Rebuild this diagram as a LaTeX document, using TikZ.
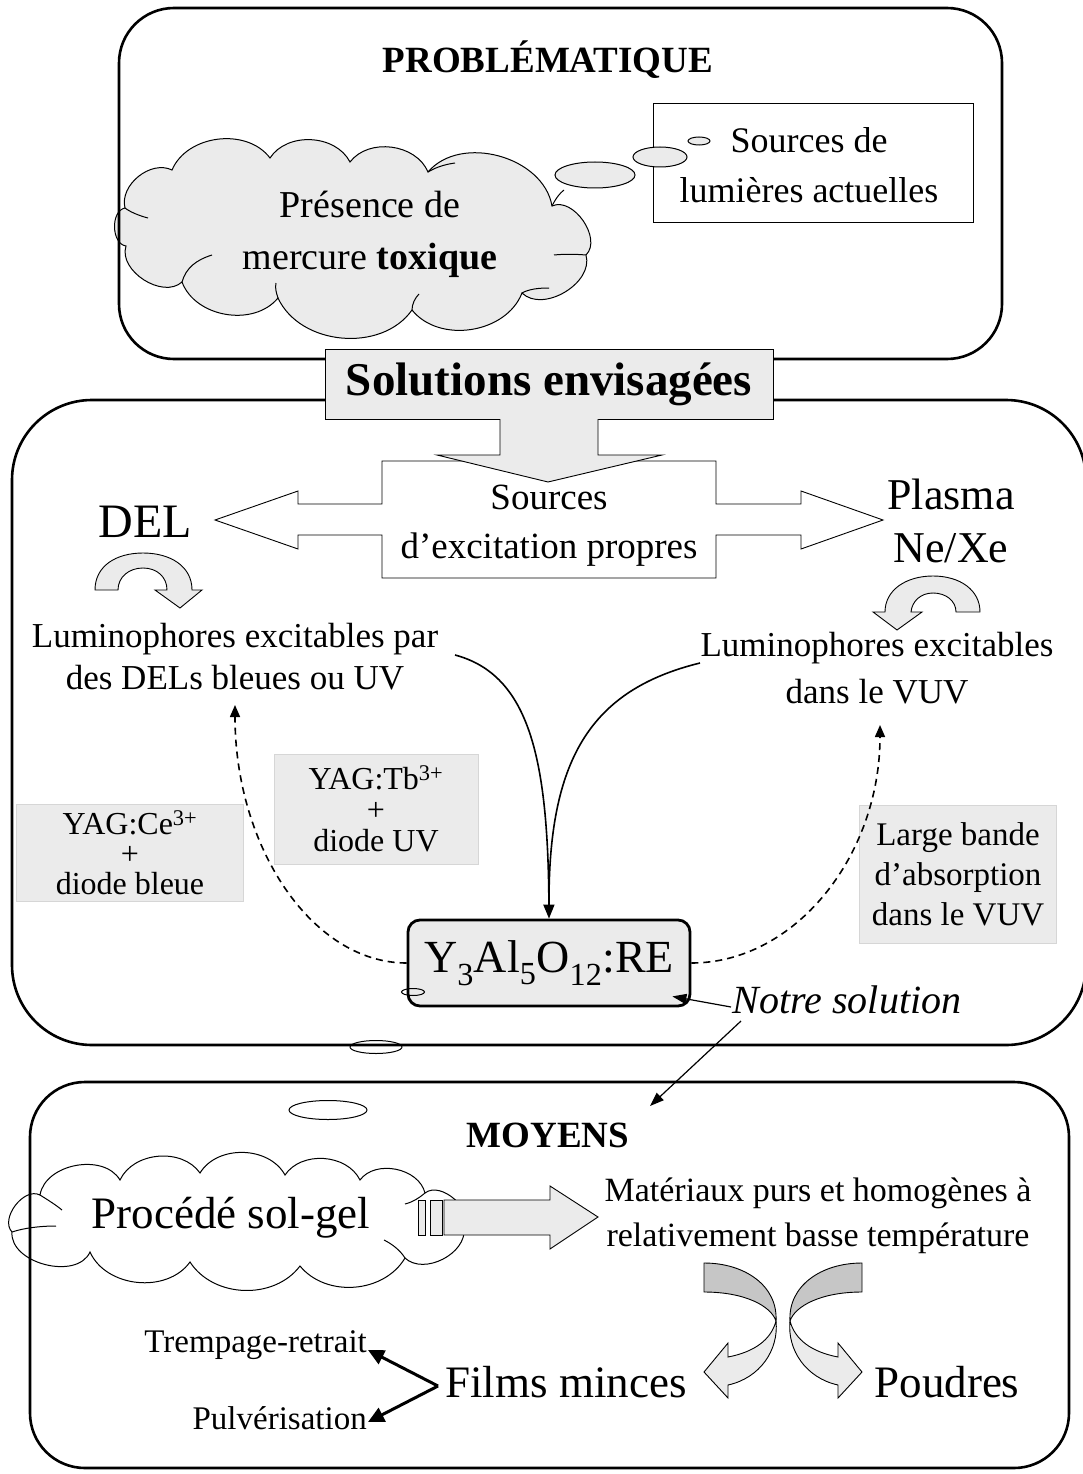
\documentclass[tikz,border=0pt]{standalone}
\usepackage{fontspec}
\setmainfont{Liberation Serif}
\usetikzlibrary{arrows.meta,calc}
\definecolor{lg}{HTML}{EBEBEB}
\definecolor{dg}{HTML}{C6C6C6}
\definecolor{bd}{HTML}{D6D6D6}
\newcommand{\fsz}[2]{\fontsize{#1}{#2}\selectfont}
\begin{document}
\begin{tikzpicture}[x=1pt,y=-1pt,
  boxframe/.style={line width=2.6pt, rounded corners=#1},
  txt/.style={inner sep=0pt, align=center},
  graybox/.style={fill=lg, draw=bd, line width=0.8pt, inner sep=0pt, align=center},
  shapeline/.style={line width=0.9pt, line join=miter},
  solidarrow/.style={line width=1.6pt, -{Triangle[length=14pt,width=11pt]}},
  dasharrow/.style={line width=1.6pt, dash pattern=on 7pt off 5pt, -{Triangle[length=12pt,width=10pt]}},
  thinarrow/.style={line width=1.2pt, -{Triangle[length=14pt,width=10pt]}},
  thickarrow/.style={line width=3pt, -{Triangle[length=16pt,width=15pt]}},
  puff/.style={bend left=#1},
]
\useasboundingbox (0,0) rectangle (1082,1474);

% ---------------- PROBLEMATIQUE ----------------
\draw[line width=1pt, fill=lg] (125,208) to[puff=65] (172,170) to[puff=60] (270,158) to[puff=60] (350,162)
  to[puff=60] (428,172) to[puff=65] (552,206) to[puff=80] (586,255) to[puff=75] (522,293)
  to[puff=60] (412,310) to[puff=60] (278,298) to[puff=60] (182,282) to[puff=75] (126,246)
  to[puff=80] (125,208) -- cycle;
\draw[line width=1pt] (125,208) .. controls (130,212) and (140,216) .. (148,218);
\draw[line width=1pt] (182,282) .. controls (186,268) and (196,260) .. (212,255);
\draw[line width=1pt] (522,293) .. controls (529,289) and (539,288) .. (549,288);
\draw[line width=1pt] (586,255) .. controls (574,254) and (564,254) .. (554,255);
\draw[line width=1pt] (552,206) .. controls (556,198) and (560,193) .. (564,190);
\draw[line width=1pt] (412,310) .. controls (412,304) and (415,298) .. (419,294);
\draw[line width=1pt] (278,298) .. controls (276,292) and (275,288) .. (276,283);
\draw[line width=1pt] (428,172) .. controls (438,166) and (448,164) .. (455,163);
\node[txt, font=\fsz{38}{52}] (pres) at (370,234) {Présence de\\mercure \textbf{toxique}};
\draw[boxframe=55pt] (119,8) rectangle (1002,359);
\node[txt, font=\fsz{37}{40}\bfseries] (prob) at (548,60) {PROBLÉMATIQUE};
\node[draw, line width=1pt, fill=white, minimum width=320, minimum height=118, inner sep=0pt] (srcbox) at (813,163) {};
\node[txt, font=\fsz{36}{50}] (srctxt) at (809,165) {Sources de\\lumières actuelles};
\draw[fill=lg, line width=1pt] (595,175) ellipse [x radius=40, y radius=13];
\draw[fill=lg, line width=1pt] (660,157) ellipse [x radius=27, y radius=10];
\draw[fill=lg, line width=1pt] (699,141) ellipse [x radius=11, y radius=4];

% ---------------- SOLUTIONS ----------------
\draw[boxframe=80pt] (12,400) rectangle (1086,1045);
\draw[shapeline, fill=white] (215,520) -- (298,491) -- (298,504) -- (382,504) -- (382,461)
  -- (716,461) -- (716,504) -- (801,504) -- (801,491) -- (883,520) -- (801,549) -- (801,535)
  -- (716,535) -- (716,578) -- (382,578) -- (382,535) -- (298,535) -- (298,549) -- cycle;
\node[fill=lg, draw, line width=1pt, minimum width=448, minimum height=70, inner sep=0pt, font=\fsz{47}{50}\bfseries] (sol) at (549,384)
  {Solutions envisagées};
\draw[shapeline, fill=lg] (500,419) -- (500,455) -- (437,455) -- (548,482) -- (662,455) -- (598,455) -- (598,419);
\node[txt, font=\fsz{37}{49}] (src) at (549,526) {Sources\\d’excitation propres};
\node[txt, font=\fsz{48}{50}] (del) at (145,522) {DEL};
\node[txt, font=\fsz{44}{53}] (plasma) at (951,521) {Plasma\\Ne/Xe};

\draw[shapeline, fill=lg] (95,590) .. controls (95,566) and (116,553) .. (143,553)
  .. controls (170,553) and (192,566) .. (192,590) -- (202,590) -- (180,608) -- (155,590) -- (167,590)
  .. controls (167,577) and (157,568) .. (143,568) .. controls (129,568) and (118,577) .. (118,590) -- cycle;
\draw[shapeline, fill=lg] (980,612) .. controls (980,590) and (960,576) .. (933,576)
  .. controls (906,576) and (885,590) .. (885,612) -- (873,612) -- (897,630) -- (922,612) -- (911,612)
  .. controls (912,601) and (921,593) .. (933,593) .. controls (946,593) and (956,601) .. (956,612) -- cycle;

\node[txt, font=\fsz{35}{42}] (lumL) at (235,657) {Luminophores excitables par\\des DELs bleues ou UV};
\node[txt, font=\fsz{35}{47}] (lumR) at (877,668) {Luminophores excitables\\dans le VUV};

\node[graybox, minimum width=204, minimum height=110, font=\fsz{32}{31}] (tb) at (376,809) {YAG:Tb\textsuperscript{3+}\\+\\diode UV};
\node[graybox, minimum width=227, minimum height=97, font=\fsz{32}{30}] (ce) at (130,853) {YAG:Ce\textsuperscript{3+}\\+\\diode bleue};
\node[graybox, minimum width=197, minimum height=138, font=\fsz{33}{40}] (lb) at (958,874) {Large bande\\d’absorption\\dans le VUV};

\node[draw, fill=lg, rounded corners=12pt, line width=2.8pt, minimum width=282, minimum height=86, inner sep=0pt, font=\fsz{46}{46}] (yag) at (549,963)
  {Y\textsubscript{3}Al\textsubscript{5}O\textsubscript{12}:RE};
\draw[line width=1pt] (413,992) ellipse [x radius=11.5, y radius=3.5];

\coordinate (cL) at (455,655);
\coordinate (cR) at (700,663);
\coordinate (dL) at (235,705);
\coordinate (dR) at (880,725);
\draw[solidarrow] (cL) .. controls (530,675) and (548,760) .. (yag.north);
\draw[line width=1.6pt] (cR) .. controls (590,690) and (548,760) .. ($(yag.north)+(0,-12)$);
\draw[dasharrow] (yag.west) .. controls (312,963) and (235,847) .. (dL);
\draw[dasharrow] (yag.east) .. controls (795,963) and (880,856) .. (dR);

\node[txt, font=\fsz{40}{40}\itshape] (notre) at (847,1000) {Notre solution};
\coordinate (n1) at (731,1007);
\coordinate (n2) at (741,1021);
\coordinate (m1) at (650,1106);
\draw[thinarrow] (n1) -- ($(yag.south east)+(-19,-11)$);
\draw[thinarrow] (n2) -- (m1);

% ---------------- MOYENS ----------------
\draw[line width=1pt] (376,1047) ellipse [x radius=26, y radius=6.5];
\draw[boxframe=55pt] (30,1082) rectangle (1069,1468);
\draw[line width=1pt] (328,1110) ellipse [x radius=39, y radius=9.5];
\node[txt, font=\fsz{37}{40}\bfseries] (moy) at (548,1135) {MOYENS};

\draw[line width=1pt] (40,1195) to[puff=70] (120,1180) to[puff=60] (200,1173) to[puff=60] (285,1175)
  to[puff=60] (360,1180) to[puff=65] (425,1193) to[puff=80] (464,1228) to[puff=70] (405,1258)
  to[puff=55] (300,1266) to[puff=55] (190,1262) to[puff=60] (90,1252) to[puff=80] (12,1232)
  to[puff=80] (40,1195) -- cycle;
\draw[line width=1pt] (12,1232) .. controls (24,1228) and (40,1226) .. (56,1226);
\draw[line width=1pt] (40,1195) .. controls (48,1200) and (56,1205) .. (62,1210);
\draw[line width=1pt] (405,1258) .. controls (400,1250) and (392,1244) .. (384,1240);
\draw[line width=1pt] (425,1193) .. controls (419,1198) and (413,1202) .. (405,1204);
\node[txt, font=\fsz{45}{45}] (proc) at (231,1218) {Procédé sol-gel};
\draw[shapeline, fill=lg] (418,1200) rectangle (425,1235);
\draw[shapeline, fill=lg] (430,1200) rectangle (442,1235);
\draw[shapeline, fill=lg] (444,1200) -- (550,1200) -- (550,1186) -- (598,1217) -- (550,1249) -- (550,1235) -- (444,1235) -- cycle;

\node[txt, font=\fsz{34}{45}] (mat) at (818,1216) {Matériaux purs et homogènes à\\relativement basse température};

\begin{scope}
\draw[shapeline, fill=dg] (704,1263) .. controls (745,1263) and (778,1286) .. (776,1321)
  .. controls (771,1306) and (745,1292) .. (704,1292) -- cycle;
\draw[shapeline, fill=lg] (776,1321) .. controls (779,1350) and (760,1378) .. (728,1385) -- (728,1398) -- (704,1372)
  -- (728,1343) -- (728,1357) .. controls (754,1352) and (771,1340) .. (776,1321) -- cycle;
\end{scope}
\begin{scope}[xshift=1566pt, xscale=-1]
\draw[shapeline, fill=dg] (704,1263) .. controls (745,1263) and (778,1286) .. (776,1321)
  .. controls (771,1306) and (745,1292) .. (704,1292) -- cycle;
\draw[shapeline, fill=lg] (776,1321) .. controls (779,1350) and (760,1378) .. (728,1385) -- (728,1398) -- (704,1372)
  -- (728,1343) -- (728,1357) .. controls (754,1352) and (771,1340) .. (776,1321) -- cycle;
\end{scope}

\node[txt, font=\fsz{45}{45}] (films) at (566,1382) {Films minces};
\node[txt, font=\fsz{45}{45}] (poud) at (947,1382) {Poudres};
\node[txt, anchor=east, font=\fsz{33}{33}] (tr) at (367,1345) {Trempage-retrait};
\node[txt, anchor=east, font=\fsz{33}{33}] (pu) at (367,1418) {Pulvérisation};
\coordinate (j) at (438,1386);
\draw[thickarrow] (j) -- ($(tr.east)+(1,5)$);
\draw[thickarrow] (j) -- ($(pu.east)+(1,4)$);
\end{tikzpicture}
\end{document}
